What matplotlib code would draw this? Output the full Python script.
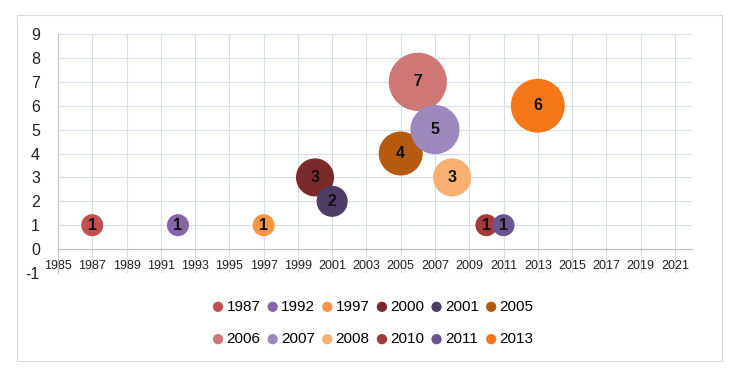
import matplotlib.pyplot as plt
from matplotlib.patches import Rectangle

years = [1987, 1992, 1997, 2000, 2001, 2005, 2006, 2007, 2008, 2010, 2011, 2013]
counts = [1, 1, 1, 3, 2, 4, 7, 5, 3, 1, 1, 6]
colors = ["#C0504D", "#8567A8", "#F79646", "#7A2B29", "#4E3D66", "#B65A10",
          "#CF7775", "#9D88BE", "#F9AE72", "#A33C39", "#6A5590", "#F5771A"]
x_ticks = list(range(1985, 2022, 2))
y_ticks = list(range(-1, 10))

plt.rcParams['font.family'] = ['Liberation Sans', 'DejaVu Sans']
plt.rcParams['axes.unicode_minus'] = False

fig = plt.figure(figsize=(7.3, 3.74), dpi=100)
fig.patches.append(Rectangle((17 / 730, 1 - 361 / 374), 705 / 730, 346 / 374,
                             transform=fig.transFigure, fill=False,
                             edgecolor="#D9D9D9", linewidth=0.8))
ax = fig.add_axes([58 / 730, 1 - 273 / 374, 634 / 730, 239 / 374])

# bubble diameter in px ~ 22 * sqrt(count)
scale = (22 * 0.72) ** 2
for yr, c, col in zip(years, counts, colors):
    ax.scatter(yr, c, s=scale * c, color=col, edgecolors="none", zorder=3,
               label=str(yr))
    ax.text(yr, c, str(c), ha="center", va="center", fontsize=11.5,
            fontweight="bold", color="#111111", zorder=4)

ax.set_xlim(1985, 2022)
ax.set_ylim(-1, 9)
ax.set_xticks(x_ticks)
ax.set_yticks(y_ticks)
ax.grid(True, color="#D6DEEA", linewidth=0.8, zorder=0)
ax.set_axisbelow(True)

for side in ["top", "right"]:
    ax.spines[side].set_visible(False)
ax.spines["left"].set_color("#B9C7DA")
ax.spines["bottom"].set_position(("data", 0))
ax.spines["bottom"].set_color("#BFBFBF")
ax.tick_params(axis="x", length=0, labelsize=9, pad=8, colors="#222222")
ax.tick_params(axis="y", length=0, labelsize=11.5, pad=13, colors="#222222")

# legend fills column by column, so interleave to get two rows in order
handles, labels = ax.get_legend_handles_labels()
order = [i + r * 6 for i in range(6) for r in range(2)]
leg = fig.legend([handles[i] for i in order], [labels[i] for i in order],
                 ncol=6, loc="center",
                 bbox_to_anchor=(372 / 730, 1 - 323 / 374), frameon=False,
                 fontsize=11, handletextpad=0.05, columnspacing=0.3,
                 labelspacing=1.2, handlelength=1.0)
for h in leg.legend_handles:
    h.set_sizes([55])

fig.savefig("out.png", dpi=100)
